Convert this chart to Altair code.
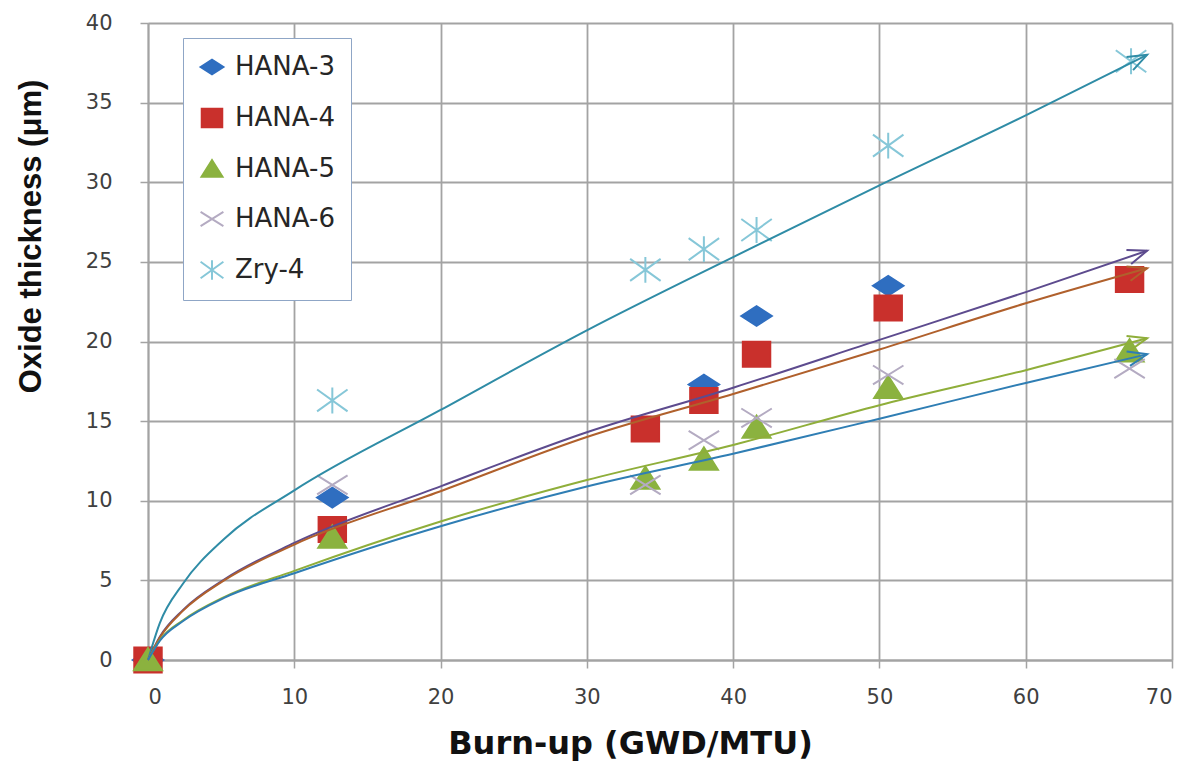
import math
import altair as alt
import pandas as pd

# ---------------- data ----------------
series_names = ["HANA-3", "HANA-4", "HANA-5", "HANA-6", "Zry-4"]

hana3_x = [0, 12.6, 38.0, 41.6, 50.6]
hana3_y = [0, 10.2, 17.3, 21.6, 23.5]

hana4_x = [0, 12.6, 34.0, 38.0, 41.6, 50.6, 67.1]
hana4_y = [0, 8.2, 14.5, 16.3, 19.2, 22.1, 23.9]

hana5_x = [0, 12.6, 34.0, 38.0, 41.6, 50.6, 67.1]
hana5_y = [0, 7.7, 11.4, 12.6, 14.6, 17.1, 19.4]

hana6_x = [12.6, 34.0, 38.0, 41.6, 50.6, 67.1]
hana6_y = [11.0, 11.0, 13.8, 15.2, 17.9, 18.3]

zry4_x = [12.6, 34.0, 38.0, 41.6, 50.6, 67.2]
zry4_y = [16.3, 24.5, 25.8, 27.0, 32.3, 37.6]

# trend lines
trend_names = ["Zry-4 fit", "HANA-3 fit", "HANA-4 fit", "HANA-5 fit", "HANA-6 fit"]
trend_zry_x = [0, 0.8, 2.4, 5.2, 10, 20, 30, 40, 50, 60, 68.3]
trend_zry_y = [0, 2.3, 4.8, 7.6, 10.65, 15.7, 20.7, 25.3, 29.8, 34.2, 38.0]
trend_h3_x = [0, 0.8, 2.4, 5.2, 10, 20, 30, 40, 50, 60, 68.3]
trend_h3_y = [0, 1.45, 3.15, 5.05, 7.35, 10.9, 14.3, 17.1, 20.1, 23.1, 25.7]
trend_h4_x = [0, 0.8, 2.4, 5.2, 10, 20, 30, 40, 50, 60, 68.3]
trend_h4_y = [0, 1.4, 3.1, 5.0, 7.25, 10.6, 14.0, 16.7, 19.5, 22.4, 24.6]
trend_h5_x = [0, 0.8, 2.4, 5.2, 10, 20, 30, 40, 50, 60, 68.3]
trend_h5_y = [0, 1.25, 2.5, 3.95, 5.6, 8.7, 11.3, 13.5, 16.0, 18.2, 20.2]
trend_h6_x = [0, 0.8, 2.4, 5.2, 10, 20, 30, 40, 50, 60, 68.3]
trend_h6_y = [0, 1.2, 2.45, 3.9, 5.45, 8.4, 10.9, 12.95, 15.15, 17.4, 19.2]

# ---------------- tables ----------------
rows = []
for name, xs, ys in [("HANA-3", hana3_x, hana3_y), ("HANA-4", hana4_x, hana4_y),
                     ("HANA-5", hana5_x, hana5_y), ("HANA-6", hana6_x, hana6_y),
                     ("Zry-4", zry4_x, zry4_y)]:
    for x, y in zip(xs, ys):
        rows.append({"series": name, "burnup": x, "oxide": y})
points_df = pd.DataFrame(rows)

W, H = 1024, 637
XMAX, YMAX = 70, 40
trend_rows, arrow_rows = [], []
for name, xs, ys in [("Zry-4 fit", trend_zry_x, trend_zry_y), ("HANA-3 fit", trend_h3_x, trend_h3_y),
                     ("HANA-4 fit", trend_h4_x, trend_h4_y), ("HANA-5 fit", trend_h5_x, trend_h5_y),
                     ("HANA-6 fit", trend_h6_x, trend_h6_y)]:
    for i, (x, y) in enumerate(zip(xs, ys)):
        trend_rows.append({"trend": name, "burnup": x, "oxide": y, "order": i})
    dx = (xs[-1] - xs[-2]) * W / XMAX
    dy = (ys[-1] - ys[-2]) * H / YMAX
    ang = math.degrees(math.atan2(-dy, dx)) % 360
    arrow_rows.append({"trend": name, "burnup": xs[-1], "oxide": ys[-1], "angle": ang})
trend_df = pd.DataFrame(trend_rows)
arrow_df = pd.DataFrame(arrow_rows)

# ---------------- styling ----------------
GRID = "#A3A3A3"
shape_range = [
    "M-1,0L0,-0.65L1,0L0,0.65Z",          # diamond
    "M-0.9,-0.82H0.9V0.82H-0.9Z",          # square
    "M-0.92,0.68L0,-0.78L0.92,0.68Z",      # triangle
    "M-1,-0.62L1,0.62M-1,0.62L1,-0.62",    # x
    "M-1,-0.72L1,0.72M-1,0.72L1,-0.72M0,-0.85L0,0.85",  # asterisk
]
fill_range = ["#2F6EC0", "#C9302C", "#8BB23F", "transparent", "transparent"]
stroke_range = ["#2F6EC0", "#C9302C", "#8BB23F", "#B4ABC2", "#86C7D8"]
trend_colors = ["#2F8CA6", "#5D4B8E", "#B0602C", "#8FAE3A", "#2F7EB4"]

x_enc = alt.X("burnup:Q",
              scale=alt.Scale(domain=[0, XMAX], nice=False),
              axis=alt.Axis(values=list(range(0, 71, 10)), title="Burn-up (GWD/MTU)",
                            grid=True, gridColor=GRID, gridWidth=1.8,
                            domainColor=GRID, domainWidth=1.8,
                            tickColor=GRID, tickSize=8, tickWidth=1.5,
                            labelFont="DejaVu Sans", labelFontSize=21, labelColor="#404040",
                            labelPadding=18,
                            titleFont="DejaVu Sans", titleFontSize=32, titleFontWeight="bold",
                            titleColor="#111111", titleX=482, titleY=83,
                            titleBaseline="middle", titleAlign="center"))
y_enc = alt.Y("oxide:Q",
              scale=alt.Scale(domain=[0, YMAX], nice=False),
              axis=alt.Axis(values=list(range(0, 41, 5)), title="Oxide thickness (μm)",
                            grid=True, gridColor=GRID, gridWidth=1.8,
                            domainColor=GRID, domainWidth=1.8,
                            tickColor=GRID, tickSize=8, tickWidth=1.5,
                            labelFont="DejaVu Sans", labelFontSize=21, labelColor="#404040",
                            labelPadding=28,
                            titleFont="Liberation Sans", titleFontSize=31, titleFontWeight="bold",
                            titleColor="#111111", titleAngle=270, titleX=-117, titleY=213,
                            titleBaseline="middle", titleAlign="center"))

legend = alt.Legend(title=None, orient="none", legendX=35, legendY=15,
                    fillColor="white", strokeColor="#8FA6C6", padding=16,
                    symbolSize=520, symbolStrokeWidth=2, labelOffset=10,
                    labelFont="DejaVu Sans", labelFontSize=26, labelColor="#262626",
                    rowPadding=24)

points = alt.Chart(points_df).mark_point(opacity=1, size=930, strokeWidth=2).encode(
    x=x_enc, y=y_enc,
    shape=alt.Shape("series:N", scale=alt.Scale(domain=series_names, range=shape_range), legend=legend),
    fill=alt.Fill("series:N", scale=alt.Scale(domain=series_names, range=fill_range), legend=legend),
    stroke=alt.Stroke("series:N", scale=alt.Scale(domain=series_names, range=stroke_range), legend=legend),
)

lines = alt.Chart(trend_df).mark_line(strokeWidth=2, interpolate="monotone").encode(
    x="burnup:Q", y="oxide:Q", order="order:Q",
    color=alt.Color("trend:N", scale=alt.Scale(domain=trend_names, range=trend_colors), legend=None),
)

arrows = alt.Chart(arrow_df).mark_point(shape="M-1,-0.38L0,0L-1,0.38", size=1500, strokeWidth=2,
                                        filled=False, opacity=1).encode(
    x="burnup:Q", y="oxide:Q",
    color=alt.Color("trend:N", scale=alt.Scale(domain=trend_names, range=trend_colors), legend=None),
    angle=alt.Angle("angle:Q", scale=None),
)

chart = alt.layer(points, lines, arrows).properties(
    width=W, height=H,
    padding={"left": 148, "top": 23, "right": 24, "bottom": 107},
    autosize=alt.AutoSizeParams(type="none"),
    background="white",
).configure_view(strokeWidth=0)

chart.save("out.html", embed_options={"renderer": "svg", "actions": False})
